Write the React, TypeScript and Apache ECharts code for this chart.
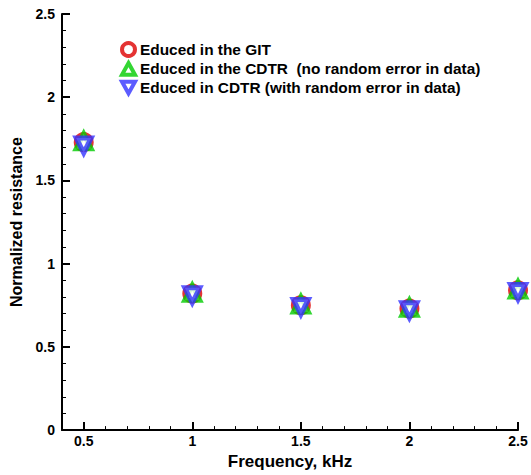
import React, { useEffect, useRef } from "react";
import * as echarts from "echarts";

const frequencies = [0.5, 1, 1.5, 2, 2.5];
const gitValues = [1.73, 0.82, 0.75, 0.73, 0.84];
const cdtrNoErrorValues = [1.735, 0.825, 0.755, 0.735, 0.845];
const cdtrWithErrorValues = [1.71, 0.81, 0.74, 0.72, 0.83];
const seriesNames = [
  "Educed in the GIT",
  "Educed in the CDTR  (no random error in data)",
  "Educed in CDTR (with random error in data)",
];
const seriesColors = ["#dd0000", "#00cc00", "#3333ff"];
const majorXTicks = [0.5, 1, 1.5, 2, 2.5];

const FONT = "'Liberation Sans', Arial, Helvetica, sans-serif";

export default function App() {
  const ref = useRef<HTMLDivElement>(null);
  useEffect(() => {
    document.body.style.margin = "0";
    if (!ref.current) return;
    const chart = echarts.init(ref.current, undefined, { renderer: "svg" });
    const pairs = (ys: number[]) => frequencies.map((x, i) => [x, ys[i]]);
    const legendStyle = (c: string) => ({ color: "#ffffff", borderColor: c, borderWidth: 4 });
    chart.setOption({
      animation: false,
      backgroundColor: "#ffffff",
      grid: { left: 61, right: 13, top: 14, bottom: 43, containLabel: false },
      legend: {
        orient: "vertical",
        left: 120,
        top: 41,
        itemWidth: 13,
        itemHeight: 13,
        itemGap: 3,
        padding: 0,
        data: [
          { name: seriesNames[0], icon: "circle", itemStyle: legendStyle(seriesColors[0]) },
          {
            name: seriesNames[1],
            icon: "path://M5,0 L10,9 L0,9 Z",
            itemStyle: legendStyle(seriesColors[1]),
          },
          {
            name: seriesNames[2],
            icon: "path://M0,0 L10,0 L5,9 Z",
            itemStyle: legendStyle(seriesColors[2]),
          },
        ],
        textStyle: { fontFamily: FONT, fontWeight: "bold", fontSize: 15.4, color: "#000" },
      },
      xAxis: [
        {
          type: "value",
          min: 0.4,
          max: 2.5,
          position: "bottom",
          splitLine: { show: false },
          axisLine: { show: true, onZero: false, lineStyle: { color: "#000", width: 2 } },
          axisTick: {
            show: true,
            inside: true,
            length: 8,
            customValues: majorXTicks,
            lineStyle: { color: "#000", width: 2 },
          },
          axisLabel: {
            customValues: majorXTicks,
            margin: 4,
            fontFamily: FONT,
            fontWeight: "bold",
            fontSize: 14,
            color: "#000",
            formatter: (v: number) => String(v),
          },
          name: "Frequency, kHz",
          nameLocation: "middle",
          nameGap: 22,
          nameTextStyle: { fontFamily: FONT, fontWeight: "bold", fontSize: 17, color: "#000" },
        },
        {
          type: "value",
          min: 0.4,
          max: 2.5,
          interval: 0.1,
          position: "bottom",
          splitLine: { show: false },
          axisLine: { show: false },
          axisTick: { show: true, inside: true, length: 4, lineStyle: { color: "#000", width: 1 } },
          axisLabel: { show: false },
        },
      ],
      yAxis: {
        type: "value",
        min: 0,
        max: 2.5,
        interval: 0.5,
        splitLine: { show: false },
        axisLine: { show: true, onZero: false, lineStyle: { color: "#000", width: 2 } },
        axisTick: { show: true, inside: true, length: 8, lineStyle: { color: "#000", width: 2 } },
        minorTick: { show: true, splitNumber: 5, length: 4, lineStyle: { color: "#000", width: 1 } },
        axisLabel: {
          margin: 7,
          fontFamily: FONT,
          fontWeight: "bold",
          fontSize: 14,
          color: "#000",
          formatter: (v: number) => String(v),
        },
        name: "Normalized resistance",
        nameLocation: "middle",
        nameGap: 38,
        nameTextStyle: { fontFamily: FONT, fontWeight: "bold", fontSize: 16, color: "#000" },
      },
      series: [
        {
          name: seriesNames[0],
          type: "scatter",
          data: pairs(gitValues),
          symbol: "circle",
          symbolSize: 15,
          z: 2,
          itemStyle: { color: "#ffffff", borderColor: seriesColors[0], borderWidth: 5 },
        },
        {
          name: seriesNames[1],
          type: "scatter",
          data: pairs(cdtrNoErrorValues),
          symbol: "triangle",
          symbolSize: 15,
          z: 3,
          itemStyle: { color: "#ffffff", borderColor: seriesColors[1], borderWidth: 5 },
        },
        {
          name: seriesNames[2],
          type: "scatter",
          data: pairs(cdtrWithErrorValues),
          symbol: "triangle",
          symbolRotate: 180,
          symbolSize: 15,
          z: 4,
          itemStyle: { color: "#ffffff", borderColor: seriesColors[2], borderWidth: 5 },
        },
      ],
    });
    return () => chart.dispose();
  }, []);
  return <div ref={ref} style={{ width: 531, height: 475 }} />;
}
